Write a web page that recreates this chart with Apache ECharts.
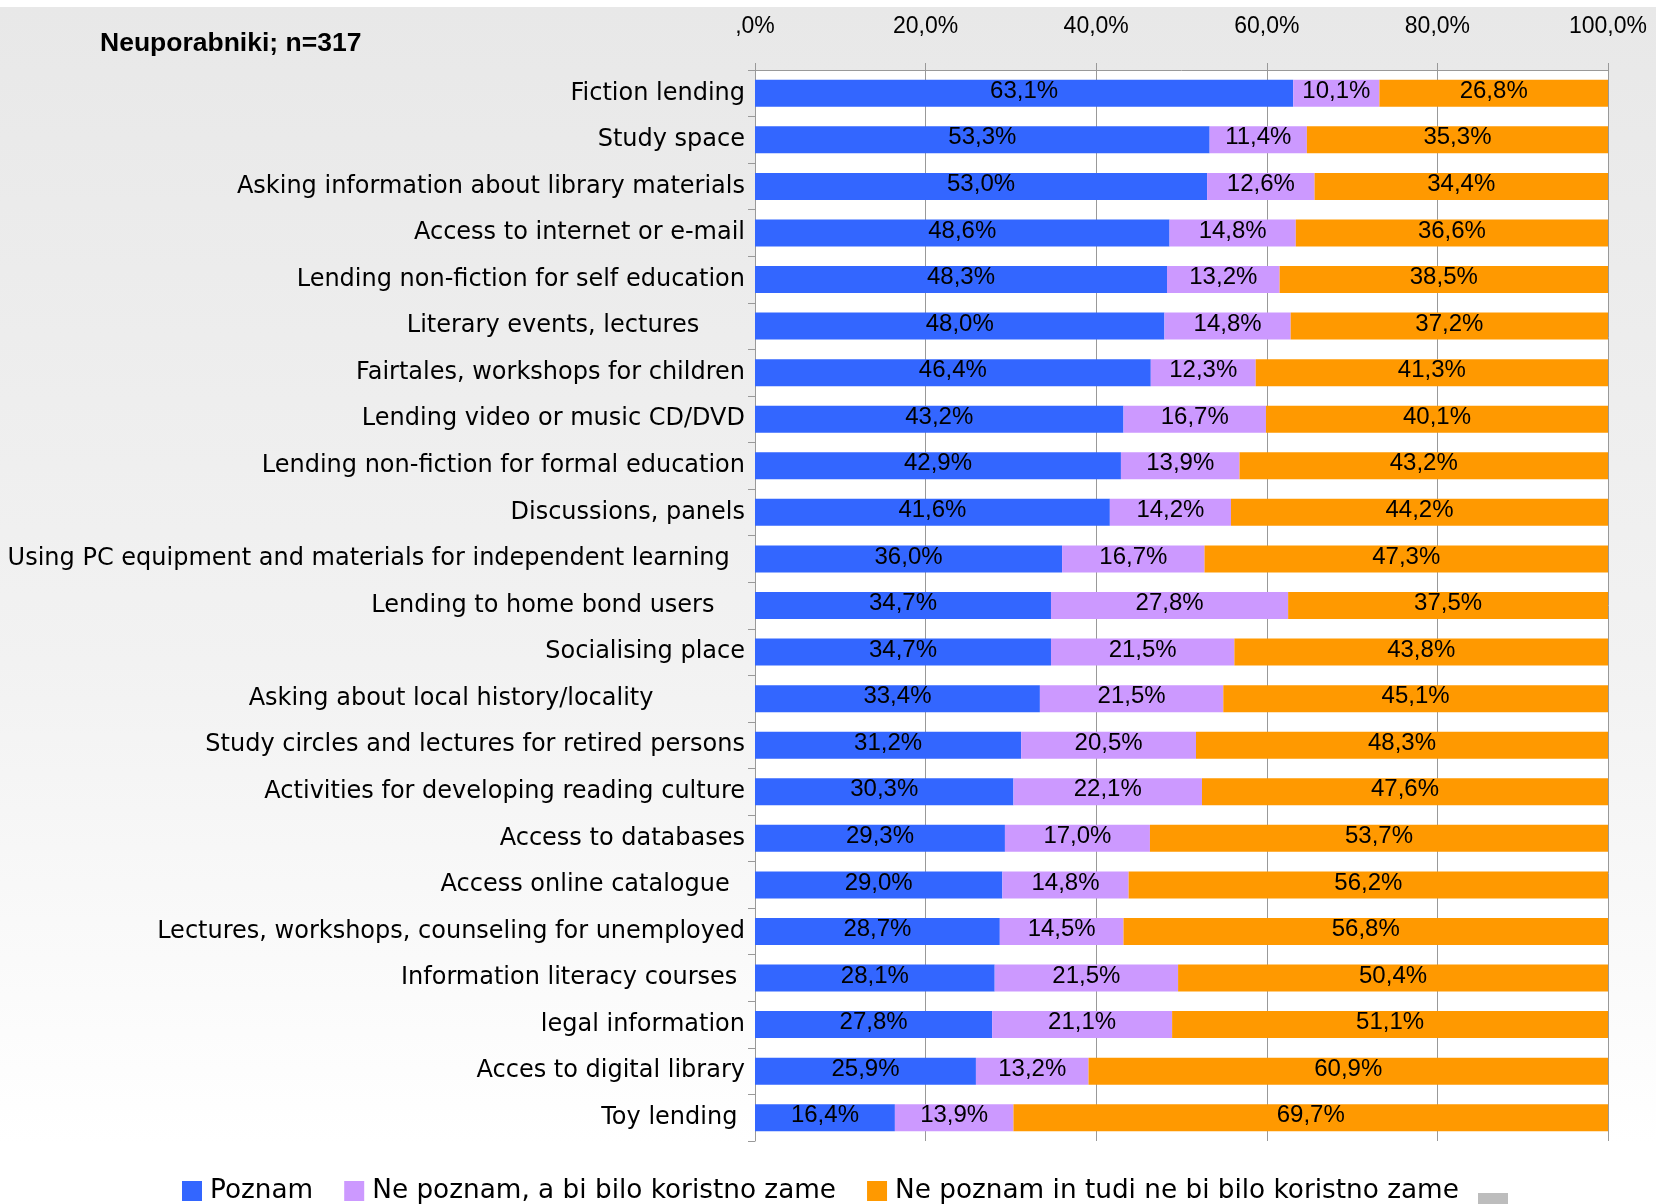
<!DOCTYPE html>
<html><head><meta charset="utf-8">
<script src="https://cdn.jsdelivr.net/npm/echarts@6/dist/echarts.min.js"></script>
<style>html,body{margin:0;padding:0;background:#fff}#c{width:1656px;height:1204px}</style>
</head><body><div id="c"></div>
<script>
const categories = [
  'Fiction lending',
  'Study space',
  'Asking information about library materials',
  'Access to internet or e-mail',
  'Lending non-fiction for self education',
  'Literary events, lectures      ',
  'Fairtales, workshops for children',
  'Lending video or music CD/DVD',
  'Lending non-fiction for formal education',
  'Discussions, panels',
  'Using PC equipment and materials for independent learning  ',
  'Lending to home bond users    ',
  'Socialising place',
  'Asking about local history/locality            ',
  'Study circles and lectures for retired persons',
  'Activities for developing reading culture',
  'Access to databases',
  'Access online catalogue  ',
  'Lectures, workshops, counseling for unemployed',
  'Information literacy courses ',
  'legal information',
  'Acces to digital library',
  'Toy lending '
];
const poznam = [63.1,53.3,53.0,48.6,48.3,48.0,46.4,43.2,42.9,41.6,36.0,34.7,34.7,33.4,31.2,30.3,29.3,29.0,28.7,28.1,27.8,25.9,16.4];
const nePoznamKoristno = [10.1,11.4,12.6,14.8,13.2,14.8,12.3,16.7,13.9,14.2,16.7,27.8,21.5,21.5,20.5,22.1,17.0,14.8,14.5,21.5,21.1,13.2,13.9];
const nePoznamNeKoristno = [26.8,35.3,34.4,36.6,38.5,37.2,41.3,40.1,43.2,44.2,47.3,37.5,43.8,45.1,48.3,47.6,53.7,56.2,56.8,50.4,51.1,60.9,69.7];
const seriesNames = ['Poznam','Ne poznam, a bi bilo koristno zame','Ne poznam in tudi ne bi bilo koristno zame'];
const tickLabels = [',0%','20,0%','40,0%','60,0%','80,0%','100,0%'];

const FONT = 'Liberation Sans';
const FONT2 = 'DejaVu Sans';
const fmt = v => v.toFixed(1).replace('.', ',') + '%';
const colors = ['#3366FF','#CC99FF','#FF9900'];
const mk = (name, data, i) => ({
  name, type: 'bar', stack: 'all', data,
  barCategoryGap: '42%',
  itemStyle: { color: colors[i] },
  label: { show: true, position: 'inside', color: '#000', fontFamily: FONT, fontSize: 24,
           offset: [0, -2], formatter: p => fmt(p.value) },
  emphasis: { disabled: true }
});

const chart = echarts.init(document.getElementById('c'), null, { renderer: 'canvas' });
chart.setOption({
  animation: false,
  backgroundColor: { type: 'linear', x: 0, y: 0, x2: 0, y2: 1, colorStops: [
    { offset: 0, color: '#ffffff' }, { offset: 0.006, color: '#ffffff' },
    { offset: 0.006, color: '#e8e8e8' }, { offset: 0.55, color: '#f2f2f2' }, { offset: 0.95, color: '#ffffff' }, { offset: 1, color: '#ffffff' } ] },
  title: { text: 'Neuporabniki; n=317', left: 95, top: 25,
    textStyle: { fontFamily: FONT, fontSize: 26.5, fontWeight: 'bold', color: '#000' } },
  legend: {
    left: 177, top: 1173, itemWidth: 20, itemHeight: 20, itemGap: 31,
    icon: 'rect', data: seriesNames,
    textStyle: { fontFamily: FONT2, fontSize: 26.3, color: '#000', padding: [0, 0, 0, 3] }
  },
  graphic: [{ type: 'rect', shape: { x: 1478, y: 1193, width: 30, height: 14 }, style: { fill: '#bdbdbd' } }],
  grid: { left: 755, right: 48, top: 70, bottom: 63, show: true, backgroundColor: '#ffffff', borderWidth: 0 },
  xAxis: {
    type: 'value', position: 'top', min: 0, max: 100, interval: 20,
    axisLine: { show: true, lineStyle: { color: '#999', width: 1 } },
    axisTick: { show: true, length: 7, lineStyle: { color: '#999' } },
    splitLine: { show: true, lineStyle: { color: '#999', width: 1 } },
    axisLabel: { margin: 32, color: '#000', fontFamily: FONT, fontSize: 23,
      formatter: v => tickLabels[Math.round(v / 20)] }
  },
  yAxis: {
    type: 'category', inverse: true, data: categories,
    axisLine: { show: true, lineStyle: { color: '#999', width: 1 } },
    axisTick: { show: true, length: 7, lineStyle: { color: '#999' } },
    axisLabel: { margin: 10, color: '#000', fontFamily: FONT2, fontSize: 24 }
  },
  series: [mk(seriesNames[0], poznam, 0), mk(seriesNames[1], nePoznamKoristno, 1), mk(seriesNames[2], nePoznamNeKoristno, 2)]
});
</script></body></html>
